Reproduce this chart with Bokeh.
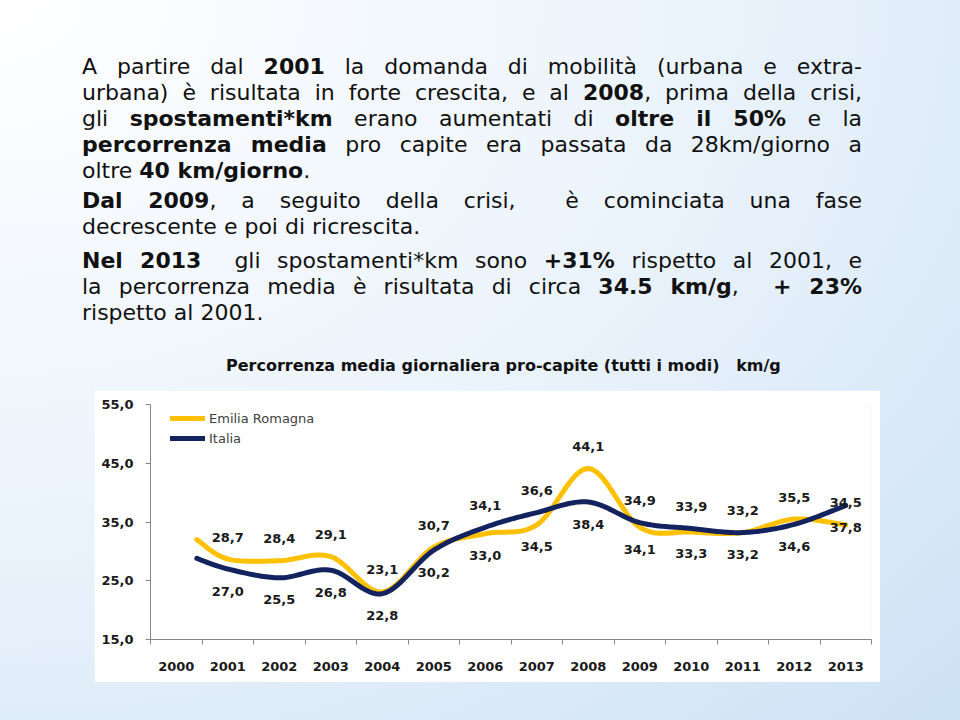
from bokeh.plotting import figure
from bokeh.models import Div, FixedTicker, CustomJSTickFormatter, ColumnDataSource
from bokeh.layouts import column
from bokeh.core.properties import value
from bokeh.embed import file_html
from bokeh.resources import INLINE

# ---------------- data ----------------
years = [2000, 2001, 2002, 2003, 2004, 2005, 2006, 2007, 2008, 2009, 2010, 2011, 2012, 2013]
emilia_romagna = [32.0, 28.7, 28.4, 29.1, 23.1, 30.7, 33.0, 34.5, 44.1, 34.1, 33.3, 33.2, 35.5, 34.5]
italia = [28.8, 27.0, 25.5, 26.8, 22.8, 30.2, 34.1, 36.6, 38.4, 34.9, 33.9, 33.2, 34.6, 37.8]
labelled_years = years[1:]          # the 2000 value carries no data label
y_ticks = [15, 25, 35, 45, 55]
# which side each Emilia Romagna label sits on (Italia takes the opposite side)
er_label_side = ["above", "above", "above", "above", "above", "below", "below",
                 "above", "below", "below", "above", "above", "above"]
first_point_shift = 0.4             # the lines start inside the 2000 slot

YELLOW = "#FFC000"
NAVY = "#13235F"
FONT = "DejaVu Sans"


def smooth(xs, ys, steps=24):
    """Excel-like smoothed line: cubic Bezier through the points (Catmull-Rom)."""
    n = len(xs)
    ox, oy = [], []
    for i in range(n - 1):
        p0 = (xs[max(i - 1, 0)], ys[max(i - 1, 0)])
        p1 = (xs[i], ys[i])
        p2 = (xs[i + 1], ys[i + 1])
        p3 = (xs[min(i + 2, n - 1)], ys[min(i + 2, n - 1)])
        c1 = (p1[0] + (p2[0] - p0[0]) / 6.0, p1[1] + (p2[1] - p0[1]) / 6.0)
        c2 = (p2[0] - (p3[0] - p1[0]) / 6.0, p2[1] - (p3[1] - p1[1]) / 6.0)
        for k in range(steps + (1 if i == n - 2 else 0)):
            t = k / steps
            a, b, c, d = (1 - t) ** 3, 3 * (1 - t) ** 2 * t, 3 * (1 - t) * t ** 2, t ** 3
            ox.append(a * p1[0] + b * c1[0] + c * c2[0] + d * p2[0])
            oy.append(a * p1[1] + b * c1[1] + c * c2[1] + d * p2[1])
    return ox, oy


line_x = [years[0] + first_point_shift] + years[1:]

# ---------------- figure ----------------
p = figure(width=786, height=292, x_range=(1999.5, 2013.5), y_range=(15, 55),
           output_backend="svg", toolbar_location=None,
           min_border_left=56, min_border_right=9, min_border_top=14, min_border_bottom=43)
p.margin = (0, 0, 0, 94)
p.background_fill_color = "white"
p.border_fill_color = "white"
p.outline_line_color = None
p.grid.visible = False

ex, ey = smooth(line_x, emilia_romagna)
ix, iy = smooth(line_x, italia)
p.line(ex, ey, line_width=5, color=YELLOW, line_cap="round", line_join="round",
       legend_label="Emilia Romagna")
p.line(ix, iy, line_width=5, color=NAVY, line_cap="round", line_join="round",
       legend_label="Italia")

# data labels
def fmt(v):
    return f"{v:.1f}".replace(".", ",")

er_vals = emilia_romagna[1:]
it_vals = italia[1:]
lab_x, lab_y, lab_t, lab_off = [], [], [], []
for yr, ev, iv, side in zip(labelled_years, er_vals, it_vals, er_label_side):
    lab_x += [yr, yr]
    lab_y += [ev, iv]
    lab_t += [fmt(ev), fmt(iv)]
    if side == "above":
        lab_off += [-22, 22]
    else:
        lab_off += [22, -22]
src = ColumnDataSource(dict(x=lab_x, y=lab_y, t=lab_t, off=lab_off))
p.text(x="x", y="y", text="t", y_offset="off", source=src, text_align="center",
       text_baseline="middle", text_font=value(FONT), text_font_size="13px",
       text_font_style="bold", text_color="#1a1a1a")

# axes
AX = "#868686"
p.xaxis.ticker = FixedTicker(ticks=years, minor_ticks=[y - 0.5 for y in years] + [years[-1] + 0.5])
p.xaxis.major_tick_line_color = None
p.xaxis.major_tick_out = 0
p.xaxis.major_tick_in = 0
p.xaxis.minor_tick_out = 5
p.xaxis.minor_tick_in = 0
p.xaxis.minor_tick_line_color = AX
p.xaxis.axis_line_color = AX
p.xaxis.major_label_standoff = 17
p.xaxis.formatter = CustomJSTickFormatter(code="return tick.toFixed(0);")

p.yaxis.ticker = FixedTicker(ticks=y_ticks)
p.yaxis.formatter = CustomJSTickFormatter(code="return tick.toFixed(1).replace('.', ',');")
p.yaxis.minor_tick_line_color = None
p.yaxis.major_tick_out = 5
p.yaxis.major_tick_in = 0
p.yaxis.major_tick_line_color = AX
p.yaxis.axis_line_color = AX
p.yaxis.major_label_standoff = 12

for ax in (p.xaxis, p.yaxis):
    ax.major_label_text_font = FONT
    ax.major_label_text_font_size = "13px"
    ax.major_label_text_font_style = "bold"
    ax.major_label_text_color = "#1a1a1a"

lg = p.legend[0]
lg.location = (20, 191)
lg.border_line_color = None
lg.background_fill_alpha = 0
lg.padding = 0
lg.margin = 0
lg.spacing = 0
lg.glyph_width = 35
lg.glyph_height = 20
lg.label_height = 20
lg.label_standoff = 4
lg.label_text_font = FONT
lg.label_text_font_size = "13px"
lg.label_text_color = "#404040"

# ---------------- text above the chart ----------------
lines = [
    (69, True, "A partire dal <b>2001</b> la domanda di mobilità (urbana e extra-"),
    (95, True, "urbana) è risultata in forte crescita, e al <b>2008</b>, prima della crisi,"),
    (121, True, "gli <b>spostamenti*km</b> erano aumentati di <b>oltre il 50%</b> e la"),
    (147, True, "<b>percorrenza media</b> pro capite era passata da 28km/giorno a"),
    (173, False, "oltre <b>40 km/giorno</b>."),
    (203, True, "<b>Dal 2009</b>, a seguito della crisi,&nbsp; è cominciata una fase"),
    (229, False, "decrescente e poi di ricrescita."),
    (263, True, "<b>Nel 2013</b>&nbsp; gli spostamenti*km sono <b>+31%</b> rispetto al 2001, e"),
    (289, True, "la percorrenza media è risultata di circa <b>34.5 km/g</b>,&nbsp; <b>+ 23%</b>"),
    (315, False, "rispetto al 2001."),
]
html = ['<div style="position:relative;width:960px;height:390px;font-family:\'DejaVu Sans\';color:#111;">']
for cy, just, txt in lines:
    align = "text-align:justify;text-align-last:justify;" if just else "text-align:left;"
    html.append(
        f'<div style="position:absolute;left:82px;top:{cy - 15}px;width:780px;height:26px;'
        f'font-size:22px;line-height:26px;{align}">{txt}</div>')
html.append(
    '<div style="position:absolute;left:226px;top:356px;font-size:16px;line-height:20px;'
    'font-weight:bold;white-space:pre;">Percorrenza media giornaliera pro-capite (tutti i modi)   km/g</div>')
html.append('</div>')
div = Div(text="".join(html), width=960, height=390, margin=0)

page = column(div, p, width=960, height=720, spacing=0,
              styles={"background": "radial-gradient(ellipse farthest-corner at 0% 0%, #ffffff 0%, #e9f2fb 55%, #cde2f5 100%)"})

open("out.html", "w").write(file_html(page, INLINE))
